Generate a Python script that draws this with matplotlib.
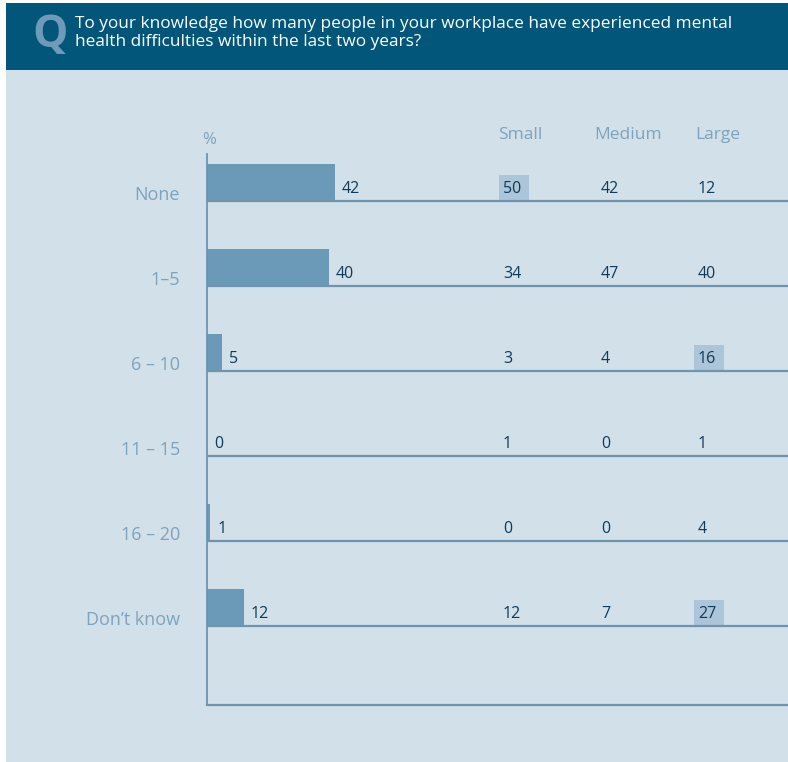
import matplotlib.pyplot as plt
from matplotlib.patches import Rectangle
import matplotlib.transforms as mtransforms

plt.rcParams['font.family'] = ['Open Sans', 'DejaVu Sans']

categories = ["None", "1–5", "6 – 10", "11 – 15", "16 – 20", "Don’t know"]
overall = [42, 40, 5, 0, 1, 12]
size_groups = ["Small", "Medium", "Large"]
small = [50, 34, 3, 1, 0, 12]
medium = [42, 47, 4, 0, 0, 7]
large = [12, 40, 16, 1, 4, 27]
# (row, column) cells shown with a shaded box
highlights = [(0, 0), (2, 2), (5, 2)]

question = ("To your knowledge how many people in your workplace have experienced mental\n"
            "health difficulties within the last two years?")

W, H = 788, 762
fig = plt.figure(figsize=(W / 100, H / 100), dpi=100)
fig.patch.set_facecolor("white")

bg = "#d2e0e9"
header_c = "#02567a"
bar_c = "#6b9ab8"
line_c = "#6d95b0"
label_c = "#7ea3bd"
num_c = "#0f3a58"
box_c = "#adc5d8"

def fx(px):
    return px / W

def fy(py):
    return 1 - py / H

# page background and header band
fig.patches.append(Rectangle((fx(6), 0), 1 - fx(6), fy(70), transform=fig.transFigure,
                             facecolor=bg, edgecolor="none", zorder=-2))
fig.patches.append(Rectangle((fx(6), fy(70)), 1 - fx(6), fy(3) - fy(70), transform=fig.transFigure,
                             facecolor=header_c, edgecolor="none", zorder=-2))
fig.text(fx(50), fy(36), "Q", color="#6f9ab8", fontsize=32, fontweight="bold",
         ha="center", va="center")
fig.text(fx(75), fy(33), question, color="white", fontsize=12.4, ha="left", va="center",
         linespacing=1.25)

# main axes
left, top, bottom = 207, 154, 705
ax = fig.add_axes([fx(left), fy(bottom), 1 - fx(left), fy(top) - fy(bottom)])
ax.set_facecolor("none")
row_gap = 85
first_line = 201
ax.set_ylim((bottom - first_line) / row_gap, (top - first_line) / row_gap)
ax.set_xlim(0, (W - left) / 3.05)

rows = list(range(len(categories)))
bar_h = 37 / row_gap
ax.barh(rows, overall, height=-bar_h, align="edge", color=bar_c, zorder=2)
for r in rows:
    ax.axhline(r, color=line_c, lw=1.6, zorder=3)

for s in ["top", "right"]:
    ax.spines[s].set_visible(False)
ax.spines["left"].set_color(line_c)
ax.spines["left"].set_linewidth(1.3)
ax.spines["bottom"].set_color(line_c)
ax.spines["bottom"].set_linewidth(1.6)
ax.set_xticks([])
ax.set_yticks([])

trans = mtransforms.blended_transform_factory(ax.transAxes, ax.transData)
dx = mtransforms.ScaledTranslation(7 / 100, 0, fig.dpi_scale_trans)

for r, (cat, v) in enumerate(zip(categories, overall)):
    ax.text(-27 / (W - left), r - 6 / row_gap, cat, transform=trans, ha="right", va="center",
            color=label_c, fontsize=13)
    ax.text(v, r - 4 / row_gap, str(v), transform=ax.transData + dx, ha="left", va="bottom",
            color=num_c, fontsize=11.5)

col_x = [0.5095, 0.678, 0.845]
head_x = [0.540, 0.7246, 0.8795]
for c, (name, vals) in enumerate(zip(size_groups, [small, medium, large])):
    ax.text(head_x[c], (135 - first_line) / row_gap, name, transform=trans, ha="center",
            va="center", color=label_c, fontsize=12.5)
    for r, v in enumerate(vals):
        if (r, c) in highlights:
            ax.add_patch(Rectangle((col_x[c] - 4 / (W - left), r - 26 / row_gap), 30 / (W - left),
                                   26 / row_gap, transform=trans, facecolor=box_c,
                                   edgecolor="none", zorder=1))
        ax.text(col_x[c], r - 4 / row_gap, str(v), transform=trans, ha="left", va="bottom",
                color=num_c, fontsize=11.5, zorder=4)

ax.text(0.0034, (140 - first_line) / row_gap, "%", transform=trans, ha="center", va="center",
        color=label_c, fontsize=12)

fig.savefig("out.png", dpi=100)
